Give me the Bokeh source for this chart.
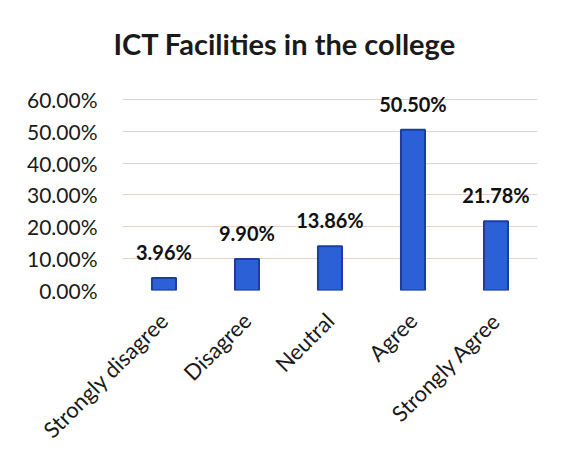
import math
from bokeh.plotting import figure
from bokeh.models import ColumnDataSource, Range1d, FactorRange, NumeralTickFormatter, FixedTicker, LabelSet
from bokeh.core.properties import value
from bokeh.embed import file_html
from bokeh.resources import INLINE

categories = ["Strongly disagree", "Disagree", "Neutral", "Agree", "Strongly Agree"]
values = [0.0396, 0.0990, 0.1386, 0.5050, 0.2178]
y_ticks = [0.0, 0.1, 0.2, 0.3, 0.4, 0.5, 0.6]
labels = ["{:.2f}%".format(v * 100) for v in values]

src = ColumnDataSource(dict(cat=categories, val=values, lab=labels))

p = figure(width=555, height=455, output_backend="svg", toolbar_location=None,
           x_range=FactorRange(*categories), y_range=Range1d(0, 0.65),
           title="ICT Facilities in the college",
           min_border_left=122, min_border_right=18, min_border_top=83, min_border_bottom=162)

p.title.text_font = "Lato"
p.title.text_font_size = "29px"
p.title.text_font_style = "bold"
p.title.text_color = "#1a1a1a"
p.title.align = "left"
p.title.offset = -9
p.title.standoff = 45

p.vbar(x="cat", top="val", width=0.29, source=src, fill_color="#2B60D6", line_color="#1C3C9E", line_width=2)

p.add_layout(LabelSet(x="cat", y="val", text="lab", source=src, text_align="center",
                      text_baseline="alphabetic", y_offset=18, text_font=value("Lato"),
                      text_font_size=value("20px"), text_font_style="bold", text_color="#111111"))

p.yaxis.ticker = FixedTicker(ticks=y_ticks)
p.yaxis.formatter = NumeralTickFormatter(format="0.00%")
for ax in (p.xaxis, p.yaxis):
    ax.axis_line_color = None
    ax.major_tick_line_color = None
    ax.minor_tick_line_color = None
    ax.major_label_text_font = "Lato"
    ax.major_label_text_color = "#1a1a1a"
p.yaxis.major_label_text_font_size = "21px"
p.xaxis.major_label_text_font_size = "22px"
p.yaxis.major_label_standoff = 19
p.xaxis.major_label_orientation = math.pi / 4
p.xaxis.major_label_standoff = 20

p.xgrid.grid_line_color = None
p.ygrid.grid_line_color = "#ecd0c8"
p.ygrid.grid_line_width = 1
p.outline_line_color = None
p.background_fill_color = "white"
p.border_fill_color = "white"

open("out.html", "w").write(file_html(p, INLINE))
